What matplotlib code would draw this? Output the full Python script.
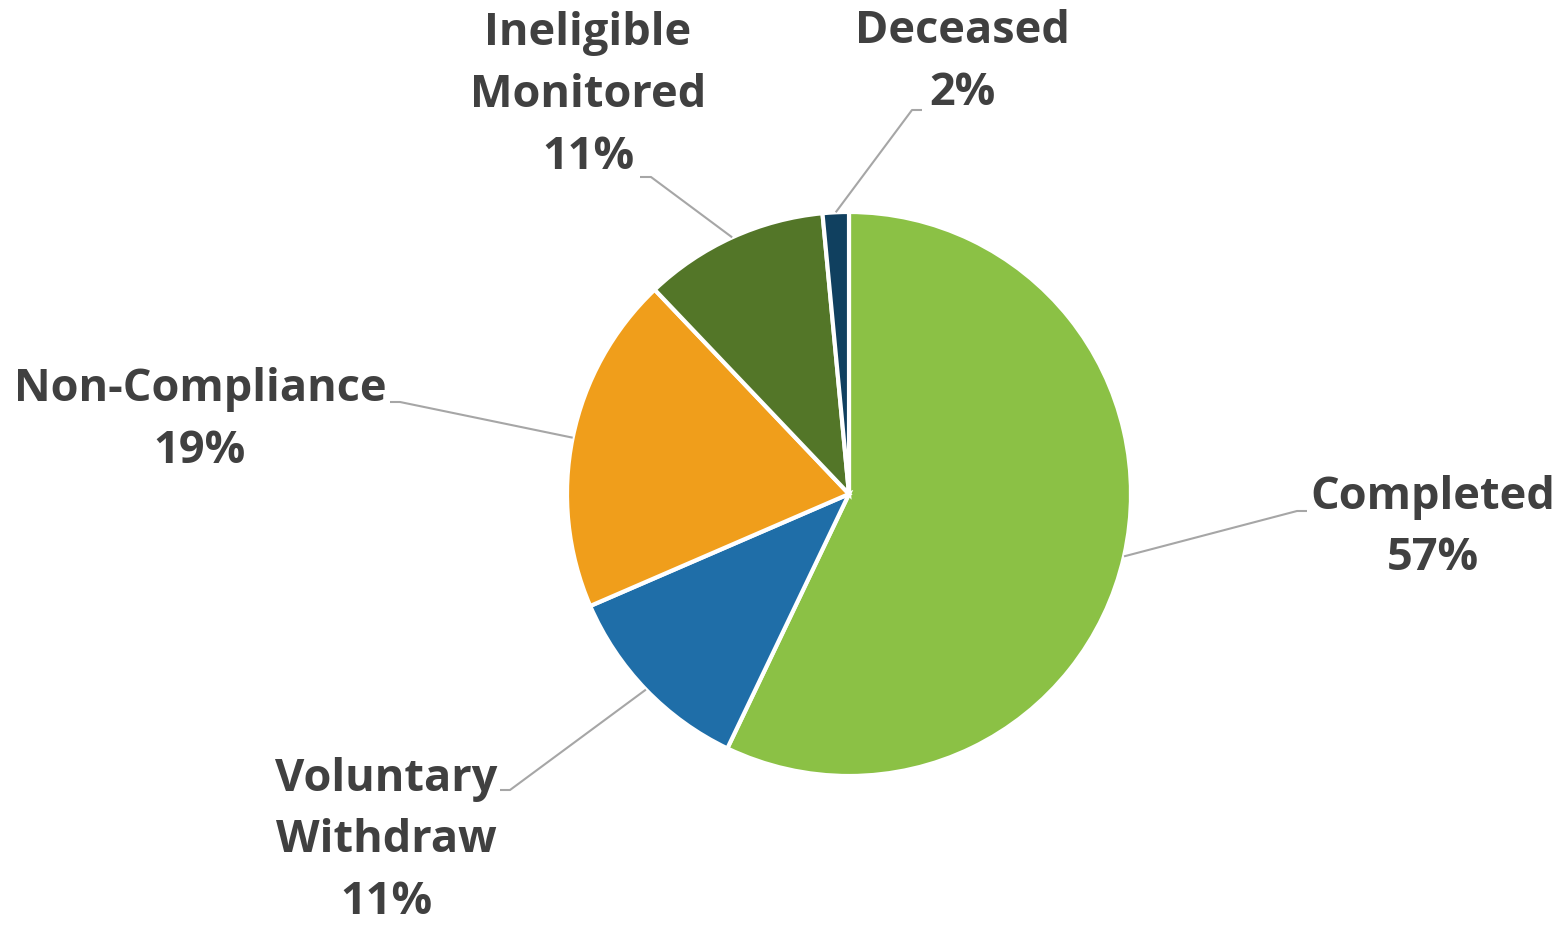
import numpy as np
import matplotlib.pyplot as plt

# slice order runs clockwise from 12 o'clock
labels = ["Completed", "Voluntary\nWithdraw", "Non-Compliance", "Ineligible\nMonitored", "Deceased"]
shares = [57.1, 11.4, 19.4, 10.6, 1.5]
pct_text = ["57%", "11%", "19%", "11%", "2%"]
colors = ["#8BC145", "#1F6EA8", "#F09E1B", "#537628", "#10405F"]

W, H = 1561, 927
CX, CY, R = 849, H - 494, 282

# label block centres and leader elbows (pixel layout, y from top)
label_pos = [(1433, 528), (386, 841), (200, 420), (588, 95), (962, 62)]
elbows = [((1297, 511), (1307, 511)),
          ((510, 790), (500, 790)),
          ((400, 402), (390, 402)),
          ((651, 177), (640, 177)),
          ((912, 110), (922, 110))]

fig = plt.figure(figsize=(W / 100, H / 100), dpi=100)
ax = fig.add_axes([0, 0, 1, 1])

wedges, _ = ax.pie(shares, colors=colors, startangle=90, counterclock=False,
                   center=(CX, CY), radius=R,
                   wedgeprops=dict(edgecolor="white", linewidth=3))
# pie() resets the limits, so set the pixel frame afterwards
ax.set_xlim(0, W)
ax.set_ylim(0, H)
ax.set_aspect("equal")
ax.axis("off")

cum = np.cumsum([0] + shares[:-1])
for i, w in enumerate(wedges):
    mid = np.deg2rad((cum[i] + shares[i] / 2) / 100 * 360)
    x0 = CX + R * np.sin(mid)
    y0 = CY + R * np.cos(mid)
    (ex, ey), (hx, hy) = elbows[i]
    ax.plot([x0, ex, hx], [y0, H - ey, H - hy], color="#A6A6A6", lw=1.5,
            solid_capstyle="butt", zorder=1)
    lx, ly = label_pos[i]
    ax.text(lx, H - ly, f"{labels[i]}\n{pct_text[i]}", ha="center", va="center",
            multialignment="center", fontsize=32.5, fontweight="bold",
            family=["Open Sans", "DejaVu Sans"], color="#404040", linespacing=1.5)

fig.savefig("out.png", dpi=100)
